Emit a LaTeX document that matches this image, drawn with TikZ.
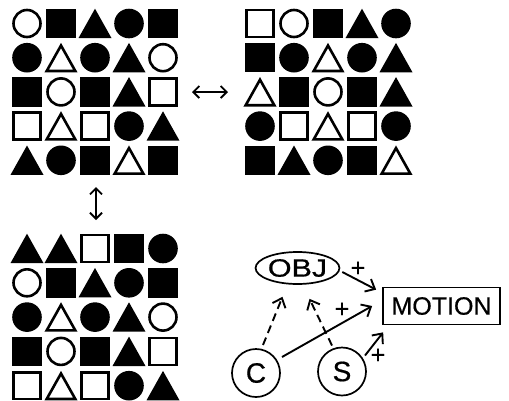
\documentclass[tikz,border=0pt]{standalone}
\usepackage{fontspec}
\setmainfont{Liberation Sans}
\newfontfamily\labelfont[FakeBold=0.6]{Liberation Sans}
\usetikzlibrary{arrows.meta,calc,shapes.geometric}
\begin{document}
\begin{tikzpicture}[x=1pt,y=-1pt,
  open/.style={line width=2.6pt},
  pics/cF/.style={code={\fill (0,0) circle (14.8);}},
  pics/cO/.style={code={\draw[open] (0,0) circle (13.5);}},
  pics/sF/.style={code={\fill (-14.7,-14.7) rectangle (14.7,14.7);}},
  pics/sO/.style={code={\draw[open] (-13.4,-13.4) rectangle (13.4,13.4);}},
  pics/tF/.style={code={\fill (0,-14.8) -- (16.5,14.6) -- (-16.5,14.6) -- cycle;}},
  pics/tO/.style={code={\draw[open,line join=miter] (0,-12.2) -- (14.3,13.3) -- (-14.3,13.3) -- cycle;}},
  relarrow/.style={line width=1.8pt,{Straight Barb[length=6pt,width=12pt]}-{Straight Barb[length=6pt,width=12pt]}},
  lbl/.style={font=\labelfont\fontsize{25}{28}\selectfont},
  ovalnode/.style={ellipse,draw,line width=1.7pt,minimum width=79pt,minimum height=32pt,inner sep=0pt,lbl},
  boxnode/.style={rectangle,draw,line width=1.7pt,minimum width=117pt,minimum height=37pt,inner sep=0pt,lbl},
  roundnode/.style={circle,draw,line width=1.7pt,minimum size=48pt,inner sep=0pt,
    font=\labelfont\fontsize{28}{30}\selectfont},
  arr/.style={line width=1.9pt,-{Straight Barb[length=8pt,width=14pt]}},
  darr/.style={arr,dash pattern=on 8pt off 5pt},
  plus/.style={lbl,inner sep=0pt}
]
\useasboundingbox (0,0) rectangle (509,400);

% the three 5x5 arrangements of shapes
\foreach \row [count=\j from 0] in {
  {cO,sF,tF,cF,sF},{cF,tO,cF,tF,cO},{sF,cO,sF,tF,sO},{sO,tO,sO,cF,tF},{tF,cF,sF,tO,sF}}
  \foreach \s [count=\i from 0] in \row
    \pic at (27+34*\i, 23.5+34.2*\j) {\s};

\foreach \row [count=\j from 0] in {
  {sO,cO,sF,tF,cF},{sF,cF,tO,cF,tF},{tO,sF,cO,sF,tF},{cF,sO,tO,sO,cF},{sF,tF,cF,sF,tO}}
  \foreach \s [count=\i from 0] in \row
    \pic at (260+34*\i, 23.5+34.2*\j) {\s};

\foreach \row [count=\j from 0] in {
  {tF,tF,sO,sF,cF},{cO,sF,tF,cF,sF},{cF,tO,cF,tF,cO},{sF,cO,sF,tF,sO},{sO,tO,sO,cF,tF}}
  \foreach \s [count=\i from 0] in \row
    \pic at (27+34*\i, 248.5+34.3*\j) {\s};

% edges of the arrangements, joined by two-headed arrows
\coordinate (g1e) at (179,92);
\coordinate (g2w) at (244,92);
\coordinate (g1s) at (96,175);
\coordinate (g3n) at (96,234);
\draw[relarrow,shorten <=13pt,shorten >=16pt] (g1e) -- (g2w);
\draw[relarrow,shorten <=12pt,shorten >=14pt] (g1s) -- (g3n);

% causal diagram
\node[ovalnode] (OBJ) at (297.5,268) {\scalebox{1.22}[1]{OBJ}};
\node[boxnode] (MOTION) at (441.5,306) {MOTION};
\node[roundnode] (C) at (256,373) {C};
\node[roundnode] (S) at (342,371.5) {S};

\draw[arr] ($(OBJ.east)+(2,4)$) -- ($(MOTION.north west)+(-6,3)$);
\draw[arr] ($(C.center)+(26,-16)$) -- ($(MOTION.west)+(-10,0)$);
\draw[arr] ($(S.center)+(23,-16)$) -- ($(MOTION.south west)+(1,7)$);
\draw[darr] ($(C.center)+(7,-28)$) -- ($(OBJ.south)+(-15,12)$);
\draw[darr] ($(S.center)+(-10,-26)$) -- ($(OBJ.south)+(12,14)$);

\node[plus] (p1) at (358,269) {+};
\node[plus] (p2) at (342,310) {+};
\node[plus] (p3) at (378,356) {+};
\end{tikzpicture}
\end{document}
